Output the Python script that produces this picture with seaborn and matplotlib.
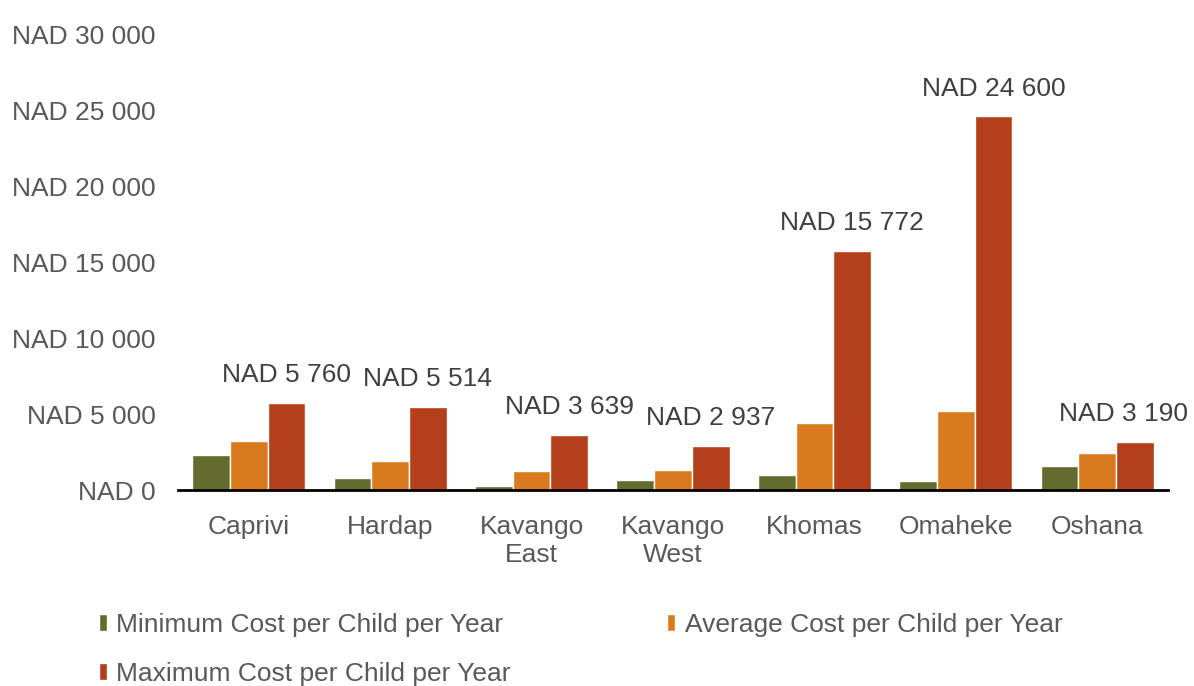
import matplotlib
matplotlib.use("Agg")
import matplotlib.pyplot as plt
import seaborn as sns
import pandas as pd

regions = ["Caprivi", "Hardap", "Kavango\nEast", "Kavango\nWest", "Khomas", "Omaheke", "Oshana"]
min_cost = [2350, 790, 290, 660, 1010, 610, 1620]
avg_cost = [3280, 1950, 1260, 1340, 4450, 5200, 2460]
max_cost = [5760, 5514, 3639, 2937, 15772, 24600, 3190]
series_names = ["Minimum Cost per Child per Year",
                "Average Cost per Child per Year",
                "Maximum Cost per Child per Year"]
colors = ["#636B2F", "#D97A1F", "#B3401A"]
yticks = [0, 5000, 10000, 15000, 20000, 25000, 30000]

def fmt(v):
    return "NAD " + f"{int(v):,}".replace(",", " ")

rows = []
for i, r in enumerate(regions):
    for s, vals in zip(series_names, [min_cost, avg_cost, max_cost]):
        rows.append({"Region": r, "Series": s, "Value": vals[i]})
df = pd.DataFrame(rows)

sns.set_style("white")
plt.rcParams['font.family'] = ['Liberation Sans', 'DejaVu Sans']
text_color = "#595959"
FS = 19

fig = plt.figure(figsize=(11.94, 6.86), dpi=100)
ax = fig.add_axes([0.1491, 0.285, 0.8291, 0.665])
sns.barplot(data=df, x="Region", y="Value", hue="Series", order=regions,
            hue_order=series_names, palette=colors, width=0.8, gap=0,
            saturation=1, ax=ax, legend=True, errorbar=None)

ax.set_ylim(0, 30000)
ax.set_yticks(yticks)
ax.set_yticklabels([fmt(v) for v in yticks], color=text_color, fontsize=FS)
ax.tick_params(axis='x', labelsize=FS, labelcolor=text_color, length=0, pad=18)
ax.tick_params(axis='y', length=0, pad=16)
ax.set_xlabel("")
ax.set_ylabel("")
for sp in ["top", "right", "left"]:
    ax.spines[sp].set_visible(False)
ax.spines["bottom"].set_color("black")
ax.spines["bottom"].set_linewidth(2)
ax.set_xlim(-0.5, len(regions) - 0.5)

# labels on maximum bars
max_container = ax.containers[2]
x_shift = {6: -8}
for i, (bar, v) in enumerate(zip(max_container, max_cost)):
    x = bar.get_x() + bar.get_width() / 2
    ax.annotate(fmt(v), (x, bar.get_height()), xytext=(x_shift.get(i, 0), 15),
                textcoords="offset points", ha="center", va="baseline",
                fontsize=FS, color="#404040")

handles, labels = ax.get_legend_handles_labels()
ax.get_legend().remove()
order = [0, 2, 1]
fig.legend([handles[k] for k in order], [labels[k] for k in order], ncol=2,
           loc="upper left", bbox_to_anchor=(0.0825, 0.107),
           frameon=False, fontsize=FS, labelcolor=text_color, handlelength=0.33,
           handleheight=0.6, handletextpad=0.35, columnspacing=5.9,
           labelspacing=0.95, borderpad=0, borderaxespad=0)

fig.savefig("out.png", dpi=100)
